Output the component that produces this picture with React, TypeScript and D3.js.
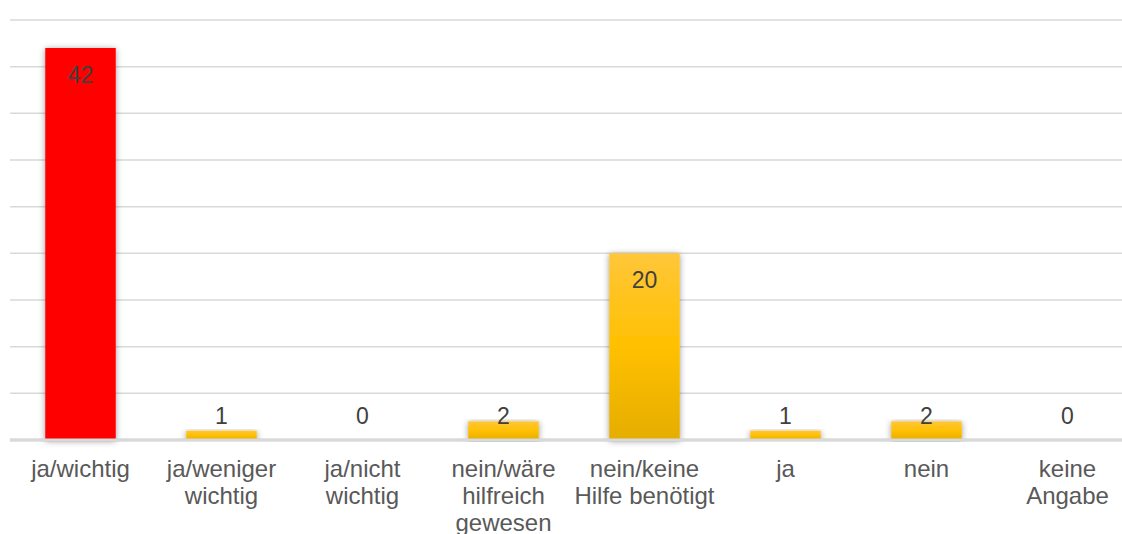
import React from "react";
import * as d3 from "d3";

const categories: string[][] = [
  ["ja/wichtig"],
  ["ja/weniger", "wichtig"],
  ["ja/nicht", "wichtig"],
  ["nein/wäre", "hilfreich", "gewesen"],
  ["nein/keine", "Hilfe benötigt"],
  ["ja"],
  ["nein"],
  ["keine", "Angabe"],
];
const values: number[] = [42, 1, 0, 2, 20, 1, 2, 0];
const highlight: boolean[] = [true, false, false, false, false, false, false, false];
const yTicks: number[] = [0, 5, 10, 15, 20, 25, 30, 35, 40, 45];

const W = 1122;
const H = 534;
const left = 10;
const right = 1138;
const top = 20;
const bottom = 440;

export default function App() {
  const x = d3
    .scaleBand<number>()
    .domain(values.map((_, i) => i))
    .range([left, right])
    .paddingInner(0.5)
    .paddingOuter(0.25);
  const y = d3.scaleLinear().domain([0, 45]).range([bottom, top]);
  const font = "'Liberation Sans', Arial, sans-serif";

  return (
    <svg
      width={W}
      height={H}
      style={{ position: "absolute", left: 0, top: 0, background: "#fff" }}
      fontFamily={font}
    >
      <defs>
        <linearGradient id="gold" x1="0" y1="0" x2="0" y2="1">
          <stop offset="0%" stopColor="#FFC639" />
          <stop offset="50%" stopColor="#FFC000" />
          <stop offset="100%" stopColor="#E5AD00" />
        </linearGradient>
        <filter id="shadow" x="-30%" y="-10%" width="160%" height="120%">
          <feDropShadow dx="0" dy="1" stdDeviation="3" floodColor="#000" floodOpacity="0.4" />
        </filter>
      </defs>
      {yTicks.map((t) => (
        <line
          key={t}
          x1={left}
          x2={right}
          y1={y(t)}
          y2={y(t)}
          stroke="#d9d9d9"
          strokeWidth={t === 0 ? 3 : 1.5}
        />
      ))}
      {values.map((v, i) => {
        const bx = x(i)!;
        const bw = x.bandwidth();
        const yt = y(v);
        const labelCenter = Math.min(yt + 27, y(0) - 24);
        return (
          <g key={i}>
            {v > 0 && (
              <rect
                x={bx}
                y={yt}
                width={bw}
                height={y(0) - yt}
                fill={highlight[i] ? "#FF0000" : "url(#gold)"}
                filter="url(#shadow)"
              />
            )}
            <text
              x={bx + bw / 2}
              y={labelCenter}
              dy="0.35em"
              textAnchor="middle"
              fontSize={23}
              fill="#404040"
            >
              {v}
            </text>
          </g>
        );
      })}
      <line x1={left} x2={right} y1={y(0)} y2={y(0)} stroke="#d9d9d9" strokeWidth={3} />
      {categories.map((lines, i) => (
        <text
          key={i}
          x={x(i)! + x.bandwidth() / 2}
          y={477}
          textAnchor="middle"
          fontSize={24}
          fill="#595959"
        >
          {lines.map((l, j) => (
            <tspan key={j} x={x(i)! + x.bandwidth() / 2} dy={j === 0 ? 0 : 27}>
              {l}
            </tspan>
          ))}
        </text>
      ))}
    </svg>
  );
}
